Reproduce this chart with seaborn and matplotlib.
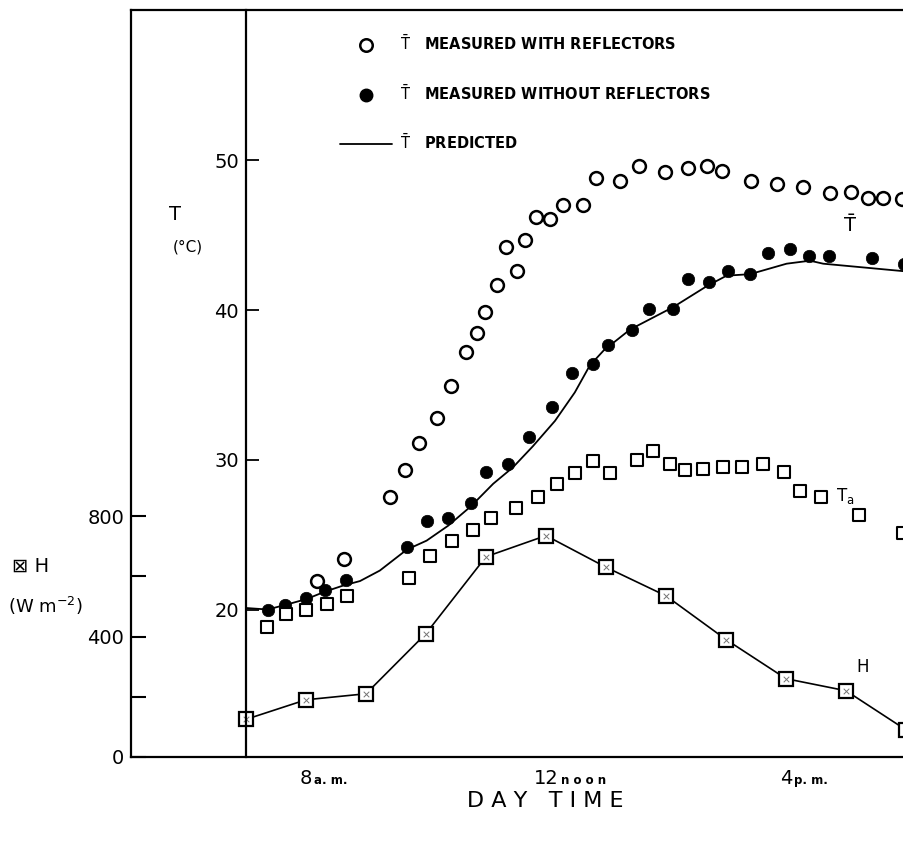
import numpy as np
import pandas as pd
import matplotlib
matplotlib.use("Agg")
import matplotlib.pyplot as plt
import seaborn as sns
from matplotlib.lines import Line2D

# values (hours of the day, deg C, W m-2)
open_x = [8.19, 8.64, 9.40, 9.65, 9.88, 10.18, 10.41, 10.66, 10.85, 10.99, 11.18, 11.33,
          11.51, 11.65, 11.84, 12.06, 12.28, 12.61, 12.83, 13.23, 13.55, 13.99, 14.37,
          14.68, 14.94, 15.41, 15.85, 16.29, 16.73, 17.08, 17.37, 17.62, 17.93]
open_t = [21.9, 23.4, 27.5, 29.3, 31.1, 32.8, 34.9, 37.2, 38.5, 39.9, 41.7, 44.2,
          42.6, 44.7, 46.2, 46.1, 47.0, 47.0, 48.8, 48.6, 49.6, 49.2, 49.5,
          49.6, 49.3, 48.6, 48.4, 48.2, 47.8, 47.9, 47.5, 47.5, 47.4]

fill_x = [7.36, 7.65, 8.00, 8.32, 8.66, 9.68, 10.01, 10.37, 10.75, 11.00, 11.36, 11.71,
          12.10, 12.43, 12.79, 13.04, 13.43, 13.72, 14.11, 14.36, 14.71, 15.03, 15.40,
          15.70, 16.06, 16.38, 16.72, 17.43, 17.96]
fill_t = [20.0, 20.3, 20.8, 21.3, 22.0, 24.2, 25.9, 26.1, 27.1, 29.2, 29.7, 31.5,
          33.5, 35.8, 36.4, 37.7, 38.7, 40.1, 40.1, 42.1, 41.9, 42.6, 42.4,
          43.8, 44.1, 43.6, 43.6, 43.5, 43.1]

pred_x = [7.0, 7.36, 7.65, 8.01, 8.32, 8.62, 8.90, 9.23, 9.68, 10.01, 10.37, 10.75,
          11.12, 11.45, 11.78, 12.15, 12.48, 12.73, 12.96, 13.40, 14.12, 14.68, 15.01,
          15.40, 16.01, 16.40, 16.62, 17.96]
pred_t = [20.1, 20.0, 20.3, 20.7, 21.2, 21.6, 21.9, 22.6, 24.0, 24.6, 25.6, 26.9,
          28.4, 29.5, 30.9, 32.6, 34.5, 36.3, 37.3, 38.7, 40.2, 41.6, 42.3,
          42.4, 43.1, 43.3, 43.1, 42.6]

ta_x = [7.35, 7.67, 8.00, 8.35, 8.68, 9.71, 10.06, 10.43, 10.78, 11.09, 11.50, 11.86,
        12.19, 12.48, 12.79, 13.07, 13.51, 13.79, 14.06, 14.31, 14.61, 14.95, 15.26,
        15.61, 15.96, 16.23, 16.58, 17.21, 17.95]
ta_t = [18.8, 19.7, 20.0, 20.4, 20.9, 22.1, 23.6, 24.6, 25.3, 26.1, 26.8, 27.5,
        28.4, 29.1, 29.9, 29.1, 30.0, 30.6, 29.7, 29.3, 29.4, 29.5, 29.5,
        29.7, 29.2, 27.9, 27.5, 26.3, 25.1]

h_x = [7, 8, 9, 10, 11, 12, 13, 14, 15, 16, 17, 18]
h_val = [125, 190, 210, 410, 665, 735, 630, 535, 390, 260, 220, 90]

x_ticks = [8, 10, 12, 14, 16]
x_numbers = ["8", "", "12", "", "4"]
h_ticks = [0, 200, 400, 600, 800]
h_ticklabels = ["0", "", "400", "", "800"]
t_ticks = [20, 30, 40, 50]

sns.set_style("white")
plt.rcParams["font.family"] = ["DejaVu Sans"]
plt.rcParams["text.color"] = "black"
plt.rcParams["axes.labelcolor"] = "black"
plt.rcParams["xtick.color"] = "black"
plt.rcParams["ytick.color"] = "black"

W, H = 904, 848
fig = plt.figure(figsize=(W / 100, H / 100), dpi=100)
fig.patch.set_facecolor("white")

# axes frame in pixels: left spine 131, bottom 757, top 10, runs past the right edge
left_px, right_px, bot_px, top_px = 131, 925, 757, 10
ax = fig.add_axes([left_px / W, 1 - bot_px / H, (right_px - left_px) / W, (bot_px - top_px) / H])
ax.set_xlim(8 - (306 - left_px) / 60, 8 + (right_px - 306) / 60)
ax.set_ylim(0, (bot_px - top_px) / 0.3012)

ax2 = ax.twinx()
ax2.set_ylim(20 + (609.5 - bot_px) / 14.97, 20 + (609.5 - top_px) / 14.97)

# H (solar radiation) on the outer axis
sns.lineplot(x=h_x, y=h_val, ax=ax, color="black", lw=1.2, marker="s", markersize=10.5,
             markerfacecolor="white", markeredgecolor="black", markeredgewidth=1.6,
             estimator=None, sort=False, zorder=3)
sns.scatterplot(x=h_x, y=h_val, ax=ax, marker="x", s=16, color="0.45", linewidth=0.7, zorder=4)

# temperatures on the inner axis
sns.lineplot(x=pred_x, y=pred_t, ax=ax2, color="black", lw=1.3, estimator=None, sort=False)
sns.scatterplot(x=open_x, y=open_t, ax=ax2, marker="o", s=85, facecolor="white",
                edgecolor="black", linewidth=1.8, zorder=3)
sns.scatterplot(x=fill_x, y=fill_t, ax=ax2, marker="o", s=80, color="black",
                edgecolor="black", linewidth=0.5, zorder=3)
sns.scatterplot(x=ta_x, y=ta_t, ax=ax2, marker="s", s=70, facecolor="white",
                edgecolor="black", linewidth=1.5, zorder=3)

# spines
for s in ["top", "bottom", "left"]:
    ax.spines[s].set_linewidth(1.6)
    ax.spines[s].set_color("black")
ax.spines["right"].set_visible(False)
for s in ["top", "bottom", "right"]:
    ax2.spines[s].set_visible(False)
ax2.spines["left"].set_visible(True)
ax2.spines["left"].set_position(("data", 7))
ax2.spines["left"].set_linewidth(1.6)
ax2.spines["left"].set_color("black")

# ticks
ax.set_xticks(x_ticks)
ax.set_xticklabels(x_numbers)
ax.set_yticks(h_ticks)
ax.set_yticklabels(h_ticklabels)
ax.tick_params(axis="x", direction="in", length=9, width=1.3, pad=9, labelsize=14)
ax.tick_params(axis="y", direction="in", length=11, width=1.5, pad=5, labelsize=14)
ax2.yaxis.tick_left()
ax2.set_yticks(t_ticks)
ax2.set_yticklabels([str(v) for v in t_ticks])
ax2.tick_params(axis="y", direction="in", length=9, width=1.3, pad=5, labelsize=14)
ax.set_ylabel("")
ax2.set_ylabel("")

# small suffixes after the hour numbers, on the same baseline
suffixes = {8: ("a. m.", 6), 12: ("n o o n", 11), 16: ("p. m.", 6)}
for xv, (txt, off) in suffixes.items():
    ax.annotate(txt, xy=(xv, 0), xycoords=("data", "axes fraction"), xytext=(off, -19.5),
                textcoords="offset points", ha="left", va="baseline", fontsize=8.5,
                fontweight="bold")

ax.set_xlabel("D A Y   T I M E", fontsize=16)
ax.xaxis.set_label_coords((545 - left_px) / (right_px - left_px), -0.045)

# axis titles
fig.text(12 / W, 1 - 566 / H, "\u22a0 H", fontsize=14, va="center", ha="left")
fig.text(8 / W, 1 - 606 / H, "(W m$^{-2}$)", fontsize=13, va="center", ha="left")
fig.text(175 / W, 1 - 215 / H, "T", fontsize=14, va="center", ha="center")
fig.text(188 / W, 1 - 247 / H, "(\u00b0C)", fontsize=11, va="center", ha="center")

# curve labels
ax2.text(17.07, 45.7, r"$\bar{\mathrm{T}}$", fontsize=14, ha="center", va="center")
ax2.text(16.98, 27.6, r"T$_\mathrm{a}$", fontsize=12, ha="center", va="center")
ax.text(17.27, 300, "H", fontsize=12, ha="center", va="center")

# legend
handles = [
    Line2D([], [], ls="none", marker="o", markersize=9, markerfacecolor="white",
           markeredgecolor="black", markeredgewidth=1.8),
    Line2D([], [], ls="none", marker="o", markersize=9, color="black"),
    Line2D([], [], color="black", lw=1.3),
]
labels = [
    r"$\bar{\mathrm{T}}$   MEASURED WITH REFLECTORS",
    r"$\bar{\mathrm{T}}$   MEASURED WITHOUT REFLECTORS",
    r"$\bar{\mathrm{T}}$   PREDICTED",
]
ax2.legend(handles, labels, loc="upper left", bbox_to_anchor=(340 / W, 1 - 34 / H),
           bbox_transform=fig.transFigure, frameon=False, borderpad=0, borderaxespad=0,
           handlelength=3.6, handletextpad=0.5, labelspacing=2.1,
           prop={"size": 10.5, "weight": "bold"})

fig.savefig("out.png", dpi=100, facecolor="white")
